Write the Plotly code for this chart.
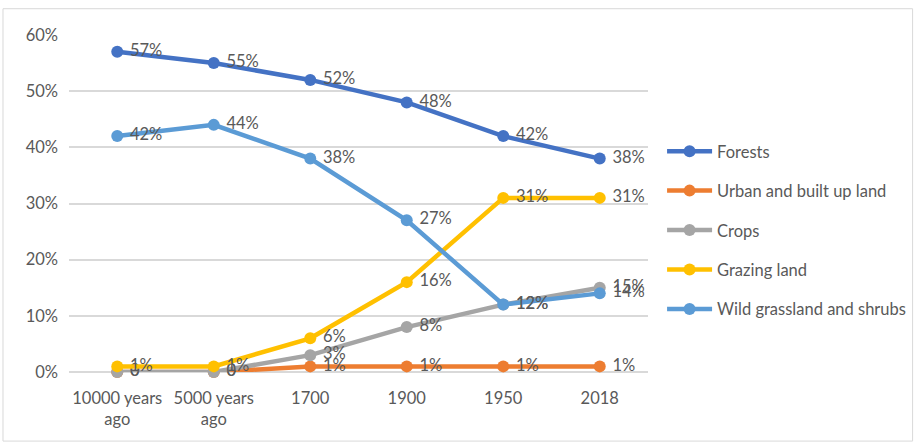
import plotly.graph_objects as go

categories = ["10000 years<br>ago", "5000 years<br>ago", "1700", "1900", "1950", "2018"]
forests = [57, 55, 52, 48, 42, 38]
urban = [0, 0, 1, 1, 1, 1]
crops = [0, 0, 3, 8, 12, 15]
grazing = [1, 1, 6, 16, 31, 31]
wild = [42, 44, 38, 27, 12, 14]

series = [
    ("Forests", forests, "#4472C4"),
    ("Urban and built up land", urban, "#ED7D31"),
    ("Crops", crops, "#A5A5A5"),
    ("Grazing land", grazing, "#FFC000"),
    ("Wild grassland and shrubs", wild, "#5B9BD5"),
]

def lab(v):
    return " 0" if v == 0 else f" {v}%"

FONT = "Lato"
FS = 16.5
fig = go.Figure()
for i, (name, vals, col) in enumerate(series):
    fig.add_trace(go.Scatter(
        x=categories, y=vals, name=name, legendgroup=str(i),
        mode="lines+markers+text",
        line=dict(color=col, width=4.5),
        marker=dict(color=col, size=12),
        text=[lab(v) for v in vals],
        textposition="middle right",
        textfont=dict(family=FONT, size=FS, color="#595959"),
        cliponaxis=False,
    ))

fig.update_layout(
    width=917, height=445,
    margin=dict(l=69, r=269, t=35, b=73),
    paper_bgcolor="white", plot_bgcolor="white",
    font=dict(family=FONT, size=FS, color="#595959"),
    legend=dict(xref="container", yref="container", x=0.722, y=0.699,
                xanchor="left", yanchor="top", tracegroupgap=15,
                itemwidth=45,
                font=dict(size=FS, color="#595959")),
    xaxis=dict(type="category", showgrid=False, showline=False, ticks="",
               range=[-0.5, 5.5], ticklabelstandoff=14,
               tickfont=dict(size=FS, color="#595959")),
    yaxis=dict(range=[0, 60], dtick=10, ticksuffix="%", showgrid=True,
               gridcolor="#D9D9D9", gridwidth=1.5, zeroline=True,
               zerolinecolor="#D9D9D9", zerolinewidth=1.5,
               ticklabelstandoff=10,
               tickfont=dict(size=FS, color="#595959")),
    shapes=[dict(type="rect", xref="paper", yref="paper", x0=-0.114, x1=1.457,
                 y0=-0.205, y1=1.078, line=dict(color="#D9D9D9", width=1))],
)

fig.write_html("out.html")
